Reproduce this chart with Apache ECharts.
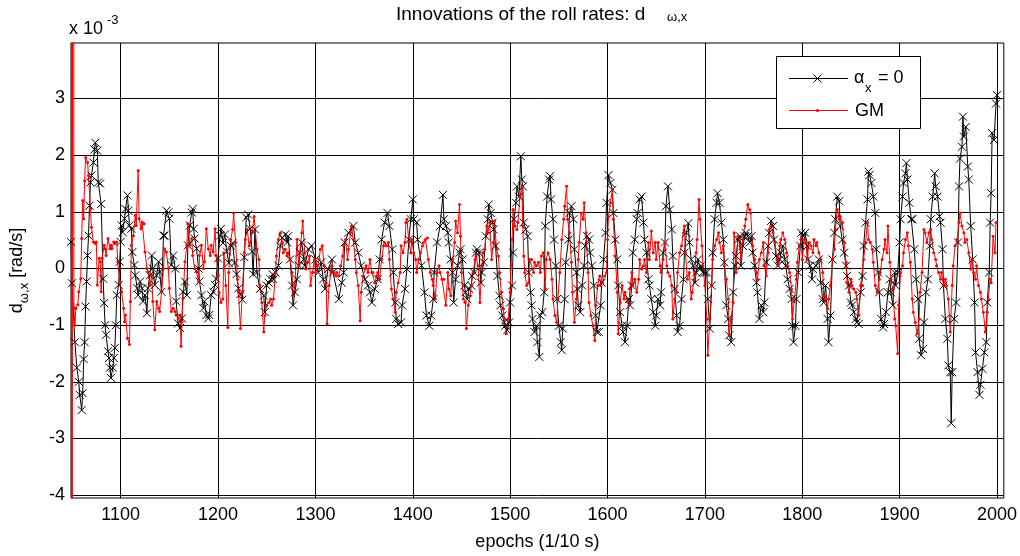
<!DOCTYPE html>
<html><head><meta charset="utf-8">
<script src="https://cdn.jsdelivr.net/npm/echarts@6/dist/echarts.min.js"></script>
<style>html,body{margin:0;padding:0;background:#fff}#c{width:1020px;height:556px}</style>
</head><body><div id="c"></div>
<script>
const xTicks = [1100,1200,1300,1400,1500,1600,1700,1800,1900,2000];
const yTicks = [-4,-3,-2,-1,0,1,2,3];
const blackName = 'alpha_x = 0';
const redName = 'GM';
// [epoch, innovation x 1e-3 rad/s]
const blackPoints = [
[1049,0.47],[1050,-0.26],[1053,-1.30],[1055,-1.75],[1057,-2.00],[1058,-2.23],[1060,-2.50],[1061,-2.20],[1062,-1.60],[1063,-1.30],
[1064,-0.67],[1065,-0.23],[1066,0.23],[1067,0.58],[1068,1.11],[1069,1.52],[1070,1.64],[1072,1.87],[1073,2.10],[1074,2.22],
[1076,2.08],[1077,1.52],[1079,1.50],[1080,1.14],[1082,-0.18],[1083,-0.61],[1084,-1.00],[1085,-1.17],[1087,-1.46],[1088,-1.58],
[1089,-1.75],[1090,-1.93],[1092,-1.75],[1093,-1.58],[1094,-1.40],[1095,-1.00],[1096,-0.47],[1098,-0.29],[1099,0.12],[1100,0.47],
[1101,0.76],[1102,0.64],[1104,0.88],[1105,1.05],[1107,1.29],[1108,1.02],[1109,0.76],[1111,0.70],[1112,0.29],[1114,0.06],
[1115,-0.12],[1117,-0.35],[1118,-0.47],[1120,-0.23],[1122,-0.35],[1123,-0.58],[1125,-0.47],[1127,-0.79],[1128,-0.35],[1130,-0.12],
[1132,0.23],[1133,0.00],[1135,-0.29],[1137,-0.12],[1139,0.12],[1140,-0.06],[1142,-0.41],[1144,0.58],[1145,0.58],[1147,1.02],
[1149,0.99],[1150,0.88],[1152,0.06],[1154,0.23],[1156,0.00],[1157,-0.58],[1159,-0.97],[1161,-1.05],[1163,-0.88],[1164,-0.41],
[1166,-0.23],[1168,-0.47],[1169,0.41],[1171,0.76],[1173,0.99],[1174,1.05],[1175,0.70],[1176,0.53],[1178,0.35],[1180,0.00],
[1181,-0.23],[1183,-0.47],[1185,-0.70],[1186,-0.58],[1188,-0.82],[1190,-0.88],[1191,-0.82],[1193,-0.47],[1195,-0.41],[1197,-0.29],
[1198,-0.18],[1200,0.18],[1202,0.58],[1203,0.70],[1205,0.45],[1207,0.60],[1209,0.30],[1211,0.10],[1213,0.40],[1215,0.45],
[1217,0.10],[1219,-0.10],[1221,-0.35],[1223,-0.45],[1225,-0.55],[1227,0.20],[1229,0.90],[1231,0.95],[1233,0.70],[1235,0.30],
[1236,-0.10],[1238,0.69],[1240,-0.07],[1243,-0.36],[1247,-0.48],[1248,-0.77],[1250,-0.30],[1252,-0.25],[1254,-0.19],[1256,-0.10],
[1257,-0.19],[1259,-0.07],[1262,0.05],[1264,0.40],[1266,0.54],[1269,0.60],[1271,0.46],[1272,0.57],[1274,0.16],[1276,-0.30],
[1277,-0.65],[1279,-0.42],[1281,-0.19],[1283,0.05],[1284,0.28],[1286,0.46],[1288,0.16],[1289,0.05],[1293,0.34],[1296,0.40],
[1300,0.16],[1303,-0.07],[1306,0.11],[1308,-0.19],[1310,-0.36],[1313,-0.01],[1317,0.16],[1318,-0.07],[1324,-0.54],[1327,-0.25],
[1329,-0.07],[1330,0.46],[1334,0.63],[1339,0.75],[1341,0.46],[1344,0.28],[1347,0.05],[1351,-0.19],[1354,-0.30],[1356,-0.42],
[1358,-0.60],[1361,-0.36],[1364,-0.19],[1366,0.16],[1368,0.51],[1371,0.81],[1374,0.98],[1376,0.75],[1379,0.34],[1380,-0.07],
[1382,-0.60],[1383,-0.89],[1385,-0.98],[1388,-0.95],[1389,-0.65],[1392,-0.36],[1394,-0.01],[1396,0.51],[1398,0.87],[1400,1.22],
[1401,0.87],[1404,0.81],[1405,0.51],[1409,0.05],[1412,-0.42],[1414,-0.83],[1417,-1.01],[1419,-0.83],[1421,-0.54],[1422,-0.07],
[1425,0.46],[1428,0.75],[1431,1.30],[1432,0.87],[1434,0.75],[1436,0.63],[1437,0.46],[1439,0.16],[1441,-0.07],[1442,-0.60],
[1444,-0.19],[1446,0.05],[1448,0.28],[1449,0.34],[1451,0.16],[1453,-0.30],[1454,-0.42],[1456,-0.54],[1458,-0.36],[1460,-0.30],
[1461,-0.13],[1463,-0.07],[1465,0.28],[1466,0.34],[1468,0.28],[1470,-0.25],[1471,-0.07],[1473,0.11],[1475,0.57],[1477,0.87],
[1478,1.13],[1480,0.98],[1482,0.81],[1483,0.69],[1485,0.40],[1487,-0.13],[1489,-0.48],[1490,-0.65],[1492,-0.83],[1494,-0.95],
[1495,-1.01],[1497,-1.09],[1499,-0.95],[1500,-0.60],[1502,-0.30],[1503,0.28],[1504,0.87],[1506,1.16],[1507,1.45],[1509,1.27],
[1511,1.98],[1512,1.57],[1513,1.45],[1514,0.81],[1516,0.69],[1518,0.57],[1519,-0.07],[1521,-0.42],[1522,-0.65],[1523,-0.89],
[1525,-1.12],[1527,-1.01],[1528,-1.30],[1530,-1.56],[1531,-0.83],[1533,-0.77],[1535,-0.42],[1536,0.75],[1538,1.27],[1540,1.57],
[1541,1.63],[1542,1.22],[1544,0.87],[1545,0.51],[1547,0.05],[1548,-0.54],[1550,-1.01],[1552,-1.30],[1553,-1.44],[1554,-1.06],
[1556,-0.54],[1557,0.11],[1560,0.51],[1561,0.98],[1563,1.10],[1565,0.87],[1566,0.34],[1568,-0.07],[1569,-0.36],[1570,-0.65],
[1572,-0.77],[1574,-0.30],[1576,0.05],[1577,0.40],[1579,0.57],[1581,0.51],[1582,0.28],[1584,0.05],[1586,-0.30],[1588,-0.83],
[1589,-1.12],[1591,-1.12],[1593,-0.65],[1594,-0.25],[1596,0.16],[1598,0.63],[1599,1.16],[1601,1.65],[1603,1.51],[1605,1.39],
[1606,0.98],[1608,0.51],[1610,0.16],[1611,-0.30],[1613,-0.77],[1615,-1.01],[1616,-1.12],[1618,-1.30],[1620,-1.01],[1622,-0.54],
[1623,-0.65],[1625,-0.30],[1626,0.28],[1628,0.51],[1630,0.87],[1631,0.98],[1633,1.22],[1635,1.27],[1637,0.81],[1638,0.51],
[1640,0.28],[1642,-0.19],[1643,-0.30],[1645,-0.54],[1647,-0.77],[1649,-1.01],[1650,-0.83],[1652,-0.54],[1654,-0.65],[1655,-0.42],
[1657,0.28],[1659,0.46],[1660,1.10],[1662,1.45],[1664,1.04],[1666,0.69],[1667,0.22],[1669,-0.36],[1671,-0.83],[1672,-1.12],
[1674,-1.01],[1676,-0.54],[1678,-0.19],[1679,0.28],[1681,0.63],[1683,0.80],[1684,0.46],[1686,0.16],[1688,0.05],[1690,-0.25],
[1691,-0.07],[1693,0.16],[1695,-0.01],[1696,0.05],[1698,-0.07],[1700,-0.07],[1702,-0.07],[1703,-0.54],[1705,-1.06],[1707,-0.30],
[1708,0.28],[1710,0.87],[1712,1.16],[1713,1.33],[1715,1.16],[1717,0.81],[1719,0.51],[1720,0.11],[1722,-0.65],[1724,-0.89],
[1725,-1.18],[1727,-1.30],[1729,-0.42],[1731,0.05],[1732,0.22],[1734,0.51],[1736,0.57],[1737,0.05],[1739,0.40],[1741,0.57],
[1742,0.63],[1744,0.57],[1746,0.46],[1748,0.57],[1749,0.28],[1751,0.05],[1753,-0.25],[1754,-0.42],[1756,-0.89],[1758,-0.65],
[1760,-0.77],[1761,-0.60],[1763,0.11],[1765,0.40],[1766,0.63],[1768,0.84],[1770,0.75],[1771,0.51],[1773,0.22],[1775,0.05],
[1777,0.16],[1778,0.28],[1780,0.40],[1782,0.16],[1783,0.05],[1785,-0.19],[1787,-0.36],[1789,-0.54],[1790,-1.01],[1791,-1.30],
[1793,-1.01],[1794,-0.54],[1796,-0.07],[1798,0.40],[1799,0.63],[1801,0.57],[1803,0.63],[1805,0.40],[1806,0.16],[1808,0.05],
[1810,-0.19],[1811,-0.01],[1814,0.05],[1817,0.16],[1819,-0.25],[1821,-0.54],[1822,-0.60],[1824,-0.30],[1826,-0.89],[1827,-1.30],
[1829,-0.83],[1831,0.16],[1833,0.63],[1834,0.87],[1836,1.27],[1838,1.19],[1839,0.75],[1841,0.51],[1843,0.28],[1845,0.05],
[1846,-0.13],[1848,-0.30],[1850,-0.60],[1851,-0.65],[1853,-0.77],[1855,-0.89],[1856,-0.95],[1858,-0.98],[1860,-0.42],[1862,-0.13],
[1863,0.40],[1865,0.81],[1867,1.22],[1868,1.71],[1869,1.65],[1871,1.51],[1873,1.27],[1875,0.98],[1876,0.34],[1878,-0.07],
[1879,-0.42],[1881,-0.89],[1883,-1.04],[1884,-0.98],[1886,-0.77],[1888,-0.42],[1890,-0.19],[1891,-0.42],[1893,-0.65],[1895,-0.07],
[1896,-0.30],[1898,-0.07],[1900,0.46],[1901,0.87],[1903,1.27],[1904,1.51],[1906,1.68],[1907,1.86],[1908,1.57],[1910,1.16],
[1912,0.87],[1913,0.87],[1915,0.34],[1917,-0.19],[1919,-0.54],[1920,-1.24],[1922,-1.53],[1924,-1.42],[1925,-0.95],[1927,-0.42],
[1929,-0.19],[1931,0.40],[1932,0.87],[1934,1.27],[1936,1.68],[1937,1.45],[1939,1.27],[1941,0.92],[1942,0.81],[1944,0.34],
[1945,-0.30],[1947,-0.89],[1949,-1.24],[1950,-1.71],[1952,-1.83],[1953,-2.73],[1954,-1.83],[1956,-0.89],[1958,-0.60],[1960,0.46],
[1961,1.45],[1962,1.94],[1964,2.15],[1965,2.68],[1966,2.33],[1968,2.50],[1970,1.80],[1971,1.57],[1973,0.75],[1975,0.16],
[1977,-0.60],[1978,-1.48],[1980,-1.83],[1982,-2.23],[1983,-2.05],[1985,-1.77],[1987,-1.48],[1989,-1.30],[1990,-0.60],[1992,-0.07],
[1993,0.81],[1994,1.33],[1995,2.39],[1997,2.27],[1999,2.91],[2000,3.06]
];
const redPoints = [
[1049,30],[1050,-30],[1051,30],[1052,-0.70],[1053,-1.00],[1054,-0.70],[1056,-0.64],[1057,-0.41],[1059,-0.18],[1060,0.53],[1061,1.20],
[1062,0.88],[1063,1.55],[1064,1.96],[1066,1.87],[1067,1.64],[1068,1.61],[1069,1.05],[1070,0.73],[1072,0.47],[1074,0.44],
[1075,0.47],[1076,-0.29],[1078,0.18],[1079,0.12],[1080,-0.41],[1081,0.18],[1083,0.41],[1084,0.35],[1085,0.23],[1087,0.53],
[1089,0.35],[1090,0.41],[1091,0.35],[1093,0.47],[1094,0.44],[1096,0.47],[1097,0.12],[1099,-0.23],[1101,-0.41],[1103,-0.70],
[1104,-0.94],[1105,-0.82],[1107,-1.23],[1109,-1.34],[1110,-0.58],[1111,0.41],[1113,0.58],[1115,0.94],[1116,0.76],[1118,1.73],
[1119,0.88],[1121,0.70],[1122,0.82],[1124,0.79],[1125,0.29],[1127,0.00],[1128,-0.06],[1130,-0.29],[1132,-0.12],[1133,-0.58],
[1135,-1.08],[1137,-0.58],[1139,-0.70],[1140,-0.76],[1142,-0.41],[1144,0.00],[1145,0.35],[1147,0.29],[1149,0.00],[1150,-0.35],
[1152,-0.76],[1154,-0.70],[1156,-0.76],[1157,-0.82],[1159,-0.88],[1161,-0.82],[1162,-1.37],[1163,-0.94],[1164,-0.53],[1166,0.12],
[1168,0.41],[1169,0.79],[1171,0.41],[1173,0.53],[1174,0.23],[1176,0.00],[1178,-0.06],[1180,-0.23],[1181,0.23],[1183,0.41],
[1185,0.00],[1186,0.12],[1188,0.70],[1190,0.35],[1192,0.23],[1193,0.41],[1195,0.29],[1197,0.70],[1198,0.23],[1200,-0.12],
[1201,-0.42],[1203,-0.60],[1205,-0.54],[1206,0.28],[1208,-0.30],[1210,-1.04],[1211,-0.07],[1213,0.51],[1215,0.69],[1216,0.98],
[1218,0.46],[1220,-0.19],[1221,-0.42],[1223,-1.06],[1225,-0.42],[1227,0.28],[1228,0.51],[1230,0.69],[1232,0.40],[1233,0.46],
[1235,0.63],[1237,0.92],[1240,0.34],[1242,0.16],[1243,-0.30],[1245,-0.60],[1247,-1.12],[1248,-0.83],[1250,-0.65],[1252,-0.60],
[1254,-0.54],[1255,-0.65],[1257,-0.54],[1259,-0.07],[1260,0.22],[1262,0.51],[1264,0.63],[1266,0.46],[1267,0.28],[1269,0.34],
[1271,0.22],[1272,0.28],[1274,0.16],[1276,-0.07],[1277,-0.48],[1279,-0.30],[1281,0.51],[1283,0.05],[1284,0.28],[1286,0.63],
[1287,0.84],[1289,0.28],[1290,-0.01],[1292,0.11],[1294,0.22],[1295,-0.30],[1297,-0.07],[1299,0.16],[1300,-0.07],[1302,0.05],
[1304,0.16],[1305,0.34],[1307,0.40],[1309,0.05],[1311,-0.25],[1312,-0.98],[1314,-0.30],[1316,-0.07],[1317,0.05],[1319,-0.07],
[1321,-0.13],[1322,-0.07],[1324,-0.13],[1326,0.05],[1328,0.22],[1329,0.40],[1331,0.51],[1333,0.16],[1334,0.34],[1336,0.63],
[1337,0.75],[1339,0.51],[1341,0.16],[1342,-0.07],[1344,-0.30],[1346,-0.92],[1347,-0.42],[1349,-0.13],[1351,-0.01],[1352,0.05],
[1354,-0.07],[1356,0.16],[1358,-0.07],[1359,-0.07],[1361,-0.25],[1363,-0.13],[1364,-0.07],[1366,-0.19],[1368,0.16],[1370,0.40],
[1371,0.46],[1373,0.40],[1375,0.46],[1376,0.16],[1378,-0.36],[1380,-0.54],[1382,-0.77],[1383,-0.42],[1385,-0.25],[1387,-0.07],
[1388,0.40],[1390,0.28],[1392,0.46],[1393,0.81],[1394,0.87],[1396,0.46],[1398,0.28],[1399,0.51],[1401,0.28],[1403,0.16],
[1404,-0.07],[1406,0.16],[1408,0.28],[1410,0.40],[1411,0.46],[1413,0.51],[1415,0.54],[1416,0.16],[1418,-0.07],[1420,-0.19],
[1421,-0.30],[1423,-0.54],[1425,-0.07],[1427,0.05],[1428,-0.07],[1430,-0.19],[1432,-0.19],[1434,-0.65],[1436,-0.07],[1437,-0.36],
[1439,-0.48],[1441,0.16],[1443,0.46],[1444,0.84],[1446,0.63],[1448,1.13],[1449,0.57],[1450,-0.07],[1452,-0.54],[1454,-0.60],
[1455,-1.06],[1457,-0.65],[1459,-0.48],[1460,-0.30],[1462,-0.07],[1464,0.16],[1465,0.22],[1467,0.05],[1469,-0.60],[1471,0.05],
[1472,0.28],[1474,0.34],[1476,0.75],[1477,0.63],[1479,0.81],[1481,0.16],[1483,0.46],[1484,0.84],[1486,0.34],[1488,0.22],
[1489,-0.07],[1491,-0.42],[1493,-0.71],[1494,-0.89],[1496,-1.15],[1498,-0.89],[1500,-0.42],[1501,0.05],[1502,0.51],[1503,1.04],
[1505,0.75],[1507,0.69],[1508,0.81],[1510,1.27],[1512,1.45],[1513,0.75],[1514,0.22],[1515,-0.07],[1517,-0.30],[1519,-0.25],
[1520,0.16],[1522,0.16],[1524,-0.07],[1525,0.11],[1527,0.05],[1529,0.11],[1531,-0.07],[1532,0.22],[1534,0.28],[1536,-0.36],
[1537,0.16],[1539,0.28],[1541,0.16],[1543,-0.19],[1544,-0.54],[1546,-0.83],[1548,-0.95],[1549,-0.54],[1551,-0.07],[1553,0.51],
[1555,0.87],[1556,1.10],[1558,1.45],[1559,0.87],[1561,0.63],[1563,0.11],[1564,-0.42],[1566,-0.95],[1568,-0.54],[1570,0.16],
[1571,0.46],[1573,0.98],[1575,0.87],[1576,1.16],[1578,0.63],[1580,-0.07],[1581,-0.60],[1583,-0.83],[1585,-1.01],[1587,-1.27],
[1588,-0.65],[1590,-0.30],[1592,-0.13],[1593,-0.30],[1595,-0.25],[1597,-0.13],[1599,-0.07],[1600,0.51],[1601,0.92],[1603,1.16],
[1605,1.39],[1606,0.87],[1608,0.22],[1610,-0.42],[1611,-1.15],[1613,-0.60],[1615,-0.30],[1617,-0.54],[1618,-0.42],[1620,-0.54],
[1622,-0.65],[1623,-0.36],[1625,-0.07],[1626,-0.30],[1628,-0.19],[1630,-0.42],[1632,-0.19],[1633,0.16],[1635,-0.01],[1637,0.05],
[1638,0.16],[1640,-0.07],[1642,0.46],[1643,0.16],[1645,0.66],[1647,0.28],[1649,0.46],[1650,0.16],[1652,0.46],[1654,0.05],
[1655,-0.07],[1657,0.16],[1659,0.46],[1661,0.05],[1662,-0.07],[1664,-0.13],[1666,-0.30],[1667,-0.89],[1669,-0.54],[1671,-0.42],
[1672,-0.07],[1674,0.28],[1676,0.40],[1678,0.63],[1679,0.75],[1680,0.28],[1682,-0.19],[1684,-0.07],[1686,-0.54],[1687,-0.42],
[1689,-0.19],[1691,0.28],[1692,0.51],[1694,1.22],[1695,0.87],[1697,0.40],[1698,0.05],[1700,-0.30],[1702,-0.89],[1703,-1.53],
[1705,-0.89],[1707,-0.30],[1708,0.16],[1710,0.40],[1712,0.51],[1714,0.63],[1715,0.46],[1717,0.28],[1719,0.40],[1720,0.05],
[1722,-0.19],[1724,-0.54],[1725,-1.18],[1727,-0.89],[1729,-0.60],[1730,0.63],[1732,-0.07],[1734,0.57],[1736,0.40],[1737,0.16],
[1739,0.51],[1741,0.75],[1742,0.87],[1744,1.13],[1746,1.04],[1747,0.98],[1749,0.40],[1751,0.16],[1753,-0.07],[1754,-0.19],
[1756,0.16],[1758,0.28],[1760,0.46],[1761,0.05],[1763,-0.13],[1765,0.28],[1766,0.69],[1768,0.75],[1770,0.63],[1772,0.46],
[1774,0.16],[1775,0.05],[1777,0.40],[1778,0.51],[1780,0.63],[1782,0.51],[1784,0.28],[1785,0.05],[1787,-0.07],[1789,-0.36],
[1790,-0.89],[1792,-0.54],[1794,-0.19],[1795,0.11],[1797,0.40],[1799,0.51],[1800,0.16],[1802,0.51],[1804,0.46],[1805,0.16],
[1807,0.46],[1809,0.40],[1811,0.28],[1812,0.51],[1814,0.40],[1815,0.46],[1817,0.28],[1819,0.16],[1821,-0.07],[1822,-0.48],
[1824,-0.54],[1826,-0.71],[1827,-0.54],[1829,-0.30],[1831,0.16],[1833,0.34],[1834,0.69],[1836,1.04],[1838,0.87],[1839,0.92],
[1841,0.81],[1843,0.46],[1845,0.11],[1846,-0.25],[1848,-0.42],[1850,-0.19],[1851,-0.30],[1853,-0.36],[1855,-0.42],[1856,-0.54],
[1858,-0.83],[1860,-0.30],[1862,-0.30],[1863,0.16],[1865,0.46],[1867,0.81],[1868,0.51],[1870,0.46],[1872,0.34],[1873,0.11],
[1875,-0.30],[1877,-0.42],[1879,-0.19],[1880,-0.07],[1882,0.16],[1884,0.34],[1885,0.51],[1887,0.28],[1888,0.75],[1890,0.11],
[1891,-0.19],[1893,-0.36],[1895,-0.89],[1896,-1.01],[1898,-1.50],[1899,-0.65],[1901,-0.07],[1903,0.05],[1904,0.28],[1906,0.51],
[1908,0.63],[1909,0.40],[1911,0.11],[1913,-0.54],[1914,-0.77],[1916,-0.95],[1918,-1.15],[1920,-0.89],[1921,-0.42],[1923,-0.07],
[1925,0.69],[1926,0.63],[1928,0.46],[1930,0.63],[1932,0.69],[1933,0.51],[1935,0.28],[1937,0.16],[1938,0.05],[1940,-0.07],
[1942,-0.19],[1943,-0.07],[1945,-0.30],[1947,-0.19],[1948,-0.30],[1950,-0.54],[1952,-1.12],[1954,-0.30],[1955,0.05],[1957,0.40],
[1959,0.51],[1961,0.81],[1962,0.98],[1964,0.75],[1966,0.63],[1967,0.46],[1969,0.51],[1971,0.28],[1973,-0.01],[1974,0.16],
[1976,-0.07],[1978,-0.19],[1979,0.05],[1981,-0.30],[1983,-0.42],[1984,-0.54],[1986,-0.77],[1988,-1.12],[1990,-0.77],[1991,-0.54],
[1993,-0.19],[1994,-0.25],[1996,0.57],[1998,0.28],[1999,0.81]
];

const FONT = 'Liberation Sans, Arial, Helvetica, sans-serif';
const chart = echarts.init(document.getElementById('c'), null, {renderer: 'canvas'});
chart.setOption({
  animation: false,
  backgroundColor: '#fff',
  title: {
    text: 'Innovations of the roll rates: d',
    left: 396, top: 5, padding: 0,
    textStyle: {fontFamily: FONT, fontSize: 19, fontWeight: 'normal', color: '#000'}
  },
  grid: {left: 69, right: 15, top: 43, bottom: 55, show: true, borderColor: '#000', borderWidth: 1, backgroundColor: 'transparent'},
  xAxis: {
    type: 'value', min: 1049, max: 2007,
    name: 'epochs (1/10 s)', nameLocation: 'middle', nameGap: 35,
    nameTextStyle: {fontFamily: FONT, fontSize: 18, color: '#000'},
    axisLine: {show: false},
    axisTick: {show: false, customValues: xTicks},
    axisLabel: {customValues: xTicks, fontFamily: FONT, fontSize: 18, color: '#000', margin: 8, formatter: v => String(v)},
    splitLine: {show: true, lineStyle: {color: '#000', width: 1}}
  },
  yAxis: {
    type: 'value', min: -4.05, max: 3.98,
    name: '{d|d}{s|ω,x}{d| [rad/s]}', nameLocation: 'middle', nameRotate: 90, nameGap: 40,
    nameTextStyle: {
      rich: {
        d: {fontFamily: FONT, fontSize: 18, color: '#000', lineHeight: 23, verticalAlign: 'top'},
        s: {fontFamily: FONT, fontSize: 13, color: '#000', lineHeight: 23, verticalAlign: 'bottom'}
      }
    },
    axisLine: {show: false},
    axisTick: {show: false, customValues: yTicks},
    axisLabel: {customValues: yTicks, fontFamily: FONT, fontSize: 18, color: '#000', margin: 6, formatter: v => String(v)},
    splitLine: {show: true, lineStyle: {color: '#000', width: 1}}
  },
  series: [
    {
      name: blackName, type: 'line', data: blackPoints, silent: true,
      symbol: 'path://M0,0L10,10M10,0L0,10', symbolSize: 8,
      itemStyle: {color: '#000', borderColor: '#000', borderWidth: 1},
      lineStyle: {color: '#000', width: 1},
      emphasis: {disabled: true}
    },
    {
      name: redName, type: 'line', data: redPoints, silent: true,
      symbol: 'circle', symbolSize: 3,
      itemStyle: {color: '#ff0000', borderWidth: 0},
      lineStyle: {color: '#ff0000', width: 1},
      emphasis: {disabled: true}
    }
  ],
  graphic: [
    {type: 'text', x: 667, y: 17, z: 100, style: {text: 'ω,x', fontFamily: FONT, fontSize: 13, fill: '#000', verticalAlign: 'middle'}},
    {type: 'text', x: 69, y: 29, z: 100, style: {text: 'x 10', fontFamily: FONT, fontSize: 18, fill: '#000', verticalAlign: 'middle'}},
    {type: 'text', x: 107, y: 20, z: 100, style: {text: '-3', fontFamily: FONT, fontSize: 13, fill: '#000', verticalAlign: 'middle'}},
    {type: 'rect', z: 100, shape: {x: 776.5, y: 56.5, width: 144, height: 72}, style: {fill: '#fff', stroke: '#000', lineWidth: 1}},
    {type: 'line', z: 101, shape: {x1: 789, y1: 78.5, x2: 848, y2: 78.5}, style: {stroke: '#000', lineWidth: 1}},
    {type: 'line', z: 101, shape: {x1: 813.5, y1: 74.5, x2: 821.5, y2: 82.5}, style: {stroke: '#000', lineWidth: 1}},
    {type: 'line', z: 101, shape: {x1: 821.5, y1: 74.5, x2: 813.5, y2: 82.5}, style: {stroke: '#000', lineWidth: 1}},
    {type: 'text', x: 854, y: 78, z: 101, style: {text: 'α', fontFamily: FONT, fontSize: 18, fill: '#000', verticalAlign: 'middle'}},
    {type: 'text', x: 865, y: 88, z: 101, style: {text: 'x', fontFamily: FONT, fontSize: 13, fill: '#000', verticalAlign: 'middle'}},
    {type: 'text', x: 878, y: 78, z: 101, style: {text: '= 0', fontFamily: FONT, fontSize: 18, fill: '#000', verticalAlign: 'middle'}},
    {type: 'line', z: 101, shape: {x1: 789, y1: 110.5, x2: 848, y2: 110.5}, style: {stroke: '#ff0000', lineWidth: 1}},
    {type: 'circle', z: 101, shape: {cx: 817.5, cy: 110.5, r: 1.6}, style: {fill: '#ff0000'}},
    {type: 'text', x: 855, y: 111, z: 101, style: {text: 'GM', fontFamily: FONT, fontSize: 18, fill: '#000', verticalAlign: 'middle'}}
  ]
});
</script>
</body></html>
